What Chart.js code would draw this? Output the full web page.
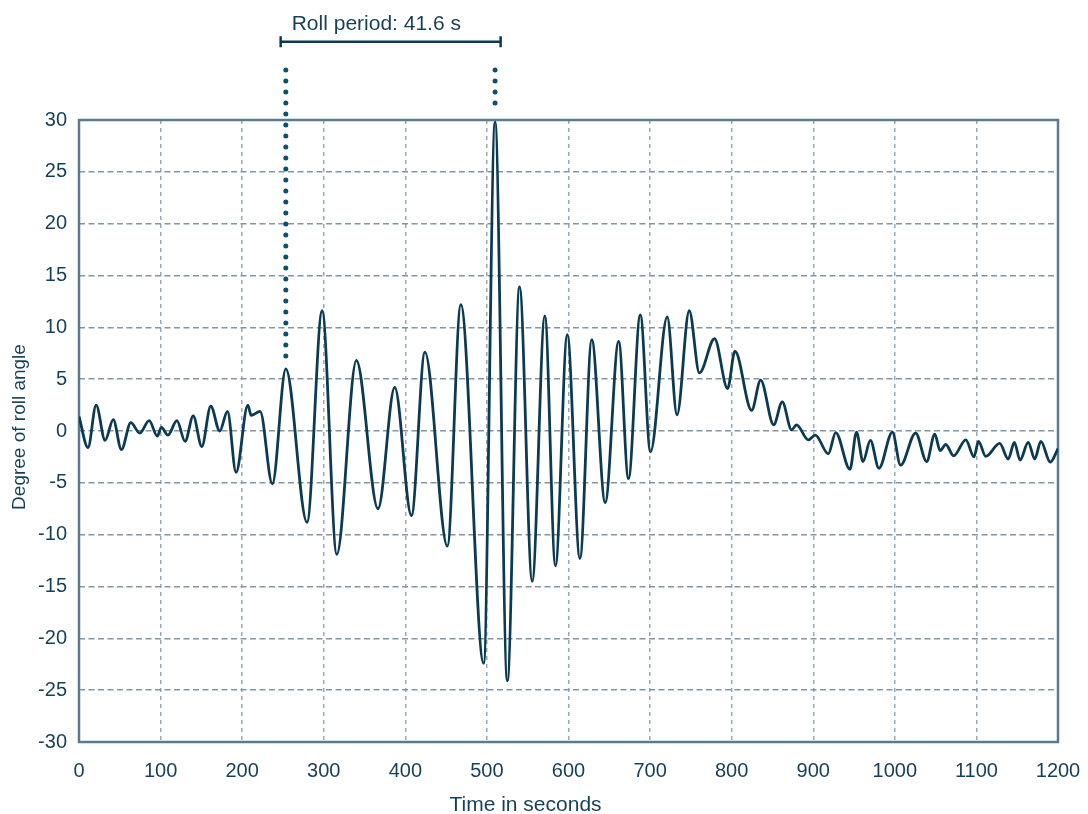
<!DOCTYPE html>
<html>
<head>
<meta charset="utf-8">
<title>Roll angle</title>
<script src="https://cdn.jsdelivr.net/npm/chart.js@4.4.1/dist/chart.umd.min.js"></script>
<style>
  html, body { margin: 0; padding: 0; background: #fff; }
  #wrap { width: 1088px; height: 814px; position: relative; }
</style>
</head>
<body>
<div id="wrap"><canvas id="roll"></canvas></div>
<script>
/* ── Data (turning points of the roll trace) ── */
const TIME = [
    0, 11, 21, 32, 42, 52, 63.5, 74.5, 86, 96, 101, 109, 120, 130, 140, 150.5,
    161.5, 172.5, 182, 192.5, 207, 211, 222, 237, 253.5, 279.5, 298, 316, 340,
    366.5, 387, 407.5, 424, 451.5, 468, 496, 510, 525, 540, 555.5, 571, 584,
    598.5, 614, 628.5, 645, 661.5, 673.5, 688, 700.5, 721, 733, 748, 760.5,
    779, 795, 804, 824.5, 835.5, 851.5, 862, 873.5, 879.5, 894, 902.5, 918.5,
    927.5, 945, 953, 961, 970, 980.5, 997, 1007, 1025.5, 1039, 1049, 1055.5,
    1062.5, 1072, 1087, 1097, 1102.5, 1111.5, 1128.5, 1139, 1146.5, 1153.5,
    1163.5, 1171.5, 1179, 1190.5, 1200
];
const ROLL = [
    1.4, -1.6, 2.5, -0.9, 1.1, -1.8, 0.8, -0.2, 1.0, -0.5, 0.35, -0.4, 1.0, -1.0, 1.45, -1.5,
    2.4, 0.0, 1.9, -4.0, 2.5, 1.5, 1.9, -5.1, 6.0, -8.8, 11.6, -11.9, 6.8,
    -7.5, 4.2, -8.15, 7.6, -11.1, 12.2, -22.4, 29.8, -24.1, 13.9, -14.5, 11.1, -13.0,
    9.3, -12.3, 8.8, -6.9, 8.65, -4.6, 11.2, -2.0, 11.0, 1.55, 11.6, 5.6,
    8.9, 4.1, 7.7, 2.0, 4.9, 0.6, 2.8, 0.1, 0.6, -0.85, -0.4, -2.2,
    -0.15, -3.7, -0.1, -2.95, -0.9, -3.6, -0.1, -3.3, -0.2, -2.95, -0.3, -1.9,
    -1.3, -2.4, -0.85, -2.5, -1.0, -2.45, -1.2, -2.7, -1.1, -2.8,
    -1.1, -2.7, -1.0, -3.0, -1.7
];

const X_TICKS = [0, 100, 200, 300, 400, 500, 600, 700, 800, 900, 1000, 1100, 1200];
const Y_TICKS = [-30, -25, -20, -15, -10, -5, 0, 5, 10, 15, 20, 25, 30];

/* roll-period marker: two dotted drops and a bracket above the plot */
const MARK_TIME  = [253.5, 510];
const MARK_TOP   = [34.83, 34.83];
const MARK_END   = [6.2, 30.6];
const BRACKET_TIME  = [247.2, 516.8];
const BRACKET_LEVEL = 37.54;
const LABEL_TIME    = 260.7;
const LABEL_LEVEL   = 38.7;
const LABEL_TEXT    = 'Roll period: 41.6 s';

const X_TITLE = 'Time in seconds';
const Y_TITLE = 'Degree of roll angle';

/* ── Style ── */
const FONT   = "'Liberation Sans', Arial, Helvetica, sans-serif";
const INK    = '#0b3b53';
const DOTS   = '#0d4f6e';
const TEXT   = '#163f58';
const FRAME  = '#587b91';
const GRID_X = '#97a9b6';
const GRID_Y = '#8095a5';

const rollMarks = {
    id: 'rollMarks',
    beforeDatasetsDraw(chart) {
        const { ctx, chartArea: a } = chart;
        ctx.save();
        ctx.strokeStyle = FRAME;
        ctx.lineWidth = 2.5;
        ctx.strokeRect(a.left, a.top, a.right - a.left, a.bottom - a.top);
        ctx.restore();
    },
    afterDatasetsDraw(chart) {
        const { ctx, chartArea: a, scales: { x, y } } = chart;
        ctx.save();

        // dotted drops
        ctx.strokeStyle = DOTS;
        ctx.lineWidth = 5;
        ctx.lineCap = 'round';
        ctx.setLineDash([0, 11]);
        MARK_TIME.forEach(function (t, i) {
            const px = x.getPixelForValue(t);
            ctx.beginPath();
            ctx.moveTo(px, y.getPixelForValue(MARK_TOP[i]));
            ctx.lineTo(px, y.getPixelForValue(MARK_END[i]));
            ctx.stroke();
        });

        // bracket
        ctx.setLineDash([]);
        ctx.lineCap = 'butt';
        ctx.strokeStyle = INK;
        ctx.lineWidth = 2.5;
        const by = y.getPixelForValue(BRACKET_LEVEL);
        const bx0 = x.getPixelForValue(BRACKET_TIME[0]);
        const bx1 = x.getPixelForValue(BRACKET_TIME[1]);
        ctx.beginPath();
        ctx.moveTo(bx0, by); ctx.lineTo(bx1, by);
        ctx.moveTo(bx0, by - 5.5); ctx.lineTo(bx0, by + 5.5);
        ctx.moveTo(bx1, by - 5.5); ctx.lineTo(bx1, by + 5.5);
        ctx.stroke();

        // texts
        ctx.fillStyle = TEXT;
        ctx.font = '21px ' + FONT;
        ctx.textAlign = 'left';
        ctx.textBaseline = 'alphabetic';
        ctx.fillText(LABEL_TEXT, x.getPixelForValue(LABEL_TIME), y.getPixelForValue(LABEL_LEVEL));

        ctx.textAlign = 'center';
        ctx.fillText(X_TITLE, a.left + 446.5, 811);

        ctx.font = '19px ' + FONT;
        ctx.translate(20, (a.top + a.bottom) / 2 - 4);
        ctx.rotate(-Math.PI / 2);
        ctx.textBaseline = 'middle';
        ctx.fillText(Y_TITLE, 0, 0);
        ctx.restore();
    },
};

new Chart(document.getElementById('roll'), {
    type: 'line',
    data: {
        datasets: [{
            data: TIME.map(function (t, i) { return { x: t, y: ROLL[i] }; }),
            borderColor: INK,
            borderWidth: 2.8,
            pointRadius: 0,
            fill: false,
            cubicInterpolationMode: 'monotone',
        }],
    },
    options: {
        responsive: true,
        maintainAspectRatio: false,
        animation: false,
        layout: { padding: { top: 120, right: 30, left: 0, bottom: 0 } },
        plugins: {
            legend: { display: false },
            tooltip: { enabled: false },
        },
        scales: {
            x: {
                type: 'linear',
                min: 0,
                max: 1200,
                afterFit(s) { s.height = 72; s.paddingLeft = 0; s.paddingRight = 0; },
                afterBuildTicks(s) { s.ticks = X_TICKS.map(function (v) { return { value: v }; }); },
                ticks: {
                    padding: 17,
                    color: TEXT,
                    font: { family: FONT, size: 20 },
                    maxRotation: 0,
                    autoSkip: false,
                    callback: function (v) { return String(v); },
                },
                grid: { color: GRID_X, lineWidth: 1.5, drawTicks: false },
                border: { display: false, dash: [4, 4] },
            },
            y: {
                min: -30,
                max: 30,
                afterFit(s) { s.width = 79; s.paddingTop = 0; s.paddingBottom = 0; },
                afterBuildTicks(s) { s.ticks = Y_TICKS.map(function (v) { return { value: v }; }); },
                ticks: {
                    padding: 12,
                    color: TEXT,
                    font: { family: FONT, size: 20 },
                    autoSkip: false,
                    callback: function (v) { return String(v); },
                },
                grid: { color: GRID_Y, lineWidth: 1.5, drawTicks: false },
                border: { display: false, dash: [6, 3.5] },
            },
        },
    },
    plugins: [rollMarks],
});
</script>
</body>
</html>
